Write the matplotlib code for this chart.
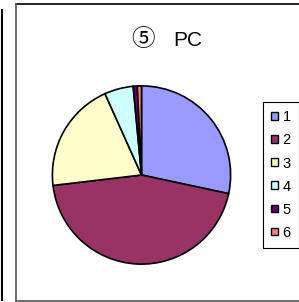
import matplotlib
matplotlib.use("Agg")
import matplotlib.pyplot as plt
from matplotlib.patches import Patch
from matplotlib.lines import Line2D

labels = ["1", "2", "3", "4", "5", "6"]
counts = [38, 60, 27, 7, 1, 1]
colors = ["#9999FF", "#993366", "#FFFFCC", "#CCFFFF", "#660066", "#FF8080"]
title_num = "⑤"
title_txt = "PC"

W, H = 299, 302
fig = plt.figure(figsize=(W / 100, H / 100), dpi=100)
fig.patch.set_facecolor("white")

def px(x, y):
    return x / W, 1 - y / H

# outer lines of the sheet / chart frame
fig.add_artist(Line2D([px(2, 0)[0]] * 2, [px(0, 10)[1], px(0, 300)[1]], color="black", lw=1.5))
fig.add_artist(Line2D([px(16, 0)[0], 1.0], [px(0, 3.5)[1]] * 2, color="black", lw=1.2))
fig.add_artist(Line2D([px(16, 0)[0]] * 2, [px(0, 3.5)[1], px(0, 300.5)[1]], color="#555555", lw=1.2))
fig.add_artist(Line2D([px(16, 0)[0], 1.0], [px(0, 300.5)[1]] * 2, color="#555555", lw=1.2))

# pie centred at (141.5, 175) px, radius 90 px
cx, cy, r = 141.5, 175, 90
ax = fig.add_axes([(cx - r) / W, 1 - (cy + r) / H, 2 * r / W, 2 * r / H])
wedges, _ = ax.pie(counts, colors=colors, startangle=90, counterclock=False,
                   wedgeprops=dict(edgecolor="black", linewidth=1.2))
ax.set_xlim(-1.01, 1.01)
ax.set_ylim(-1.01, 1.01)
ax.set_aspect("auto")
ax.axis("off")

# title: circled number + text
fig.text(143 / W, 1 - 39 / H, title_num, ha="center", va="center", fontsize=17,
         family=["Noto Sans CJK JP", "DejaVu Sans"])
fig.text(188 / W, 1 - 40 / H, title_txt, ha="center", va="center", fontsize=15,
         family="Liberation Sans")

handles = [Patch(facecolor=c, edgecolor="black", linewidth=1.0) for c in colors]
leg = fig.legend(handles, labels, loc="upper left", bbox_to_anchor=px(262.7, 101.7),
                 bbox_transform=fig.transFigure, borderaxespad=0, frameon=True,
                 fancybox=False, edgecolor="black", framealpha=1,
                 prop=dict(family="Liberation Sans", size=10.5),
                 handlelength=0.45, handleheight=0.45, handletextpad=0.3,
                 labelspacing=0.62, borderpad=0.6)
leg.get_frame().set_linewidth(0.8)

fig.savefig("out.png", dpi=100)
